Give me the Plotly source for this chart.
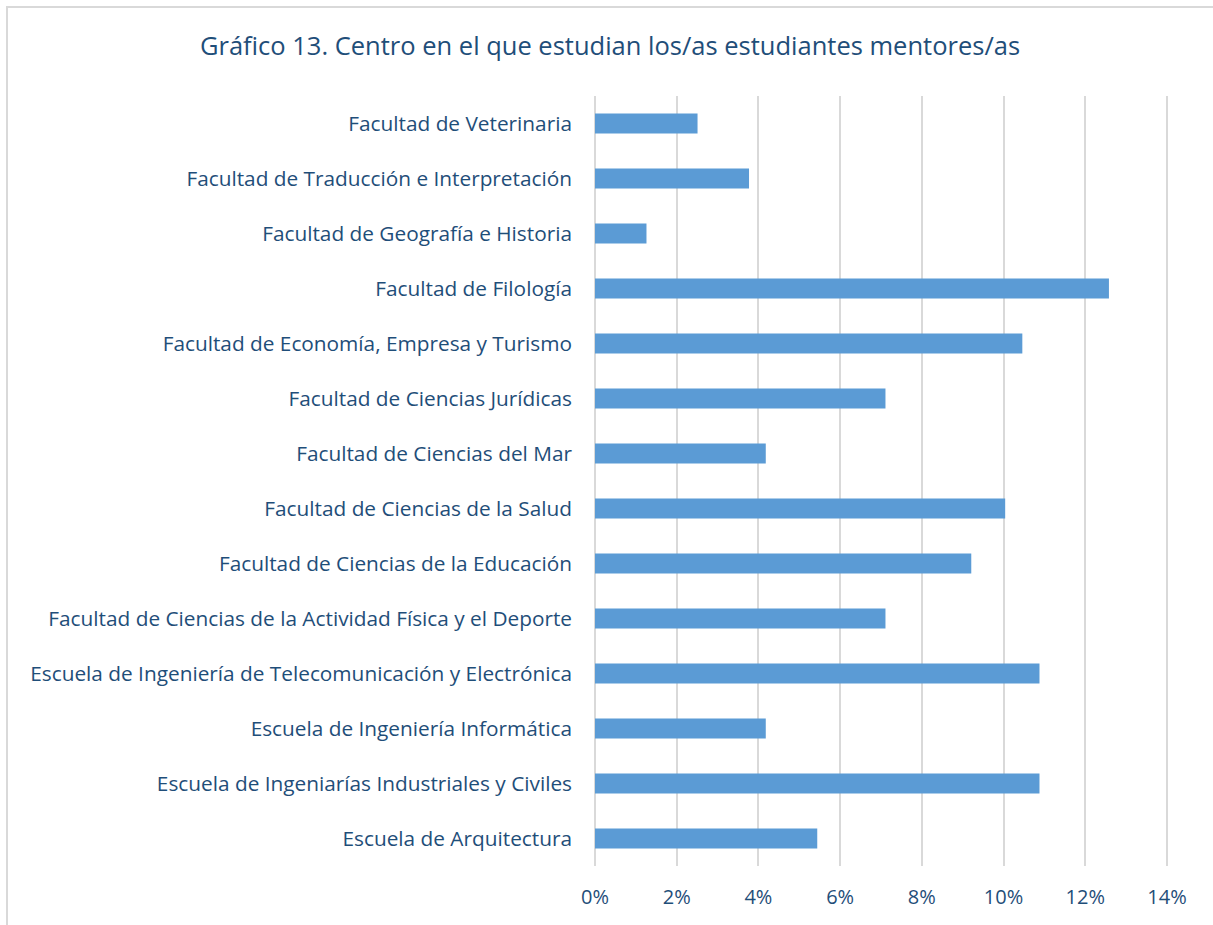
import plotly.graph_objects as go

categories = [
    "Escuela de Arquitectura",
    "Escuela de Ingeniarías Industriales y Civiles",
    "Escuela de Ingeniería Informática",
    "Escuela de Ingeniería de Telecomunicación y Electrónica",
    "Facultad de Ciencias de la Actividad Física y el Deporte",
    "Facultad de Ciencias de la Educación",
    "Facultad de Ciencias de la Salud",
    "Facultad de Ciencias del Mar",
    "Facultad de Ciencias Jurídicas",
    "Facultad de Economía, Empresa y Turismo",
    "Facultad de Filología",
    "Facultad de Geografía e Historia",
    "Facultad de Traducción e Interpretación",
    "Facultad de Veterinaria",
]
values = [0.0544, 0.1088, 0.0418, 0.1088, 0.0711, 0.0921, 0.1004, 0.0418,
          0.0711, 0.1046, 0.1258, 0.0126, 0.0377, 0.0251]
tick_vals = [0, 0.02, 0.04, 0.06, 0.08, 0.10, 0.12, 0.14]
tick_text = ["0%", "2%", "4%", "6%", "8%", "10%", "12%", "14%"]
title_text = "Gráfico 13. Centro en el que estudian los/as estudiantes mentores/as"

TXT = "#1F4E79"
FONT = "Open Sans"

fig = go.Figure(go.Bar(
    x=values, y=categories, orientation="h",
    marker=dict(color="#5B9BD5", line=dict(width=0)),
    hoverinfo="x+y",
))

L, R, T, B = 595, 44, 96, 59
W, H = 1213, 925
pw, ph = W - L - R, H - T - B

fig.update_layout(
    width=W, height=H,
    margin=dict(l=L, r=R, t=T, b=B, pad=0),
    paper_bgcolor="white", plot_bgcolor="white",
    bargap=0.64,
    showlegend=False,
    title=dict(text=title_text, x=610 / W, xanchor="center",
               y=1 - 46 / H, yanchor="middle",
               font=dict(family=FONT, size=25.5, color=TXT)),
    xaxis=dict(range=[0, 0.1405], tickvals=tick_vals, ticktext=tick_text,
               showgrid=True, gridcolor="#D9D9D9", gridwidth=2,
               zeroline=True, zerolinecolor="#D9D9D9", zerolinewidth=2,
               showline=False, ticks="",
               tickfont=dict(family=FONT, size=20, color=TXT),
               ticklabelstandoff=17, fixedrange=True),
    yaxis=dict(showgrid=False, zeroline=False, showline=False, ticks="",
               tickfont=dict(family=FONT, size=20.8, color=TXT),
               ticklabelstandoff=22, fixedrange=True),
    shapes=[dict(type="rect", xref="paper", yref="paper",
                 x0=(7 - L) / pw, x1=(W + 20 - L) / pw,
                 y0=(H - B - (H + 20)) / ph, y1=(H - B - 7) / ph,
                 line=dict(color="#D9D9D9", width=2), fillcolor="rgba(0,0,0,0)",
                 layer="below")],
)

fig.write_html("out.html", post_script="document.body.style.margin='0';",
               config={"displayModeBar": False})
